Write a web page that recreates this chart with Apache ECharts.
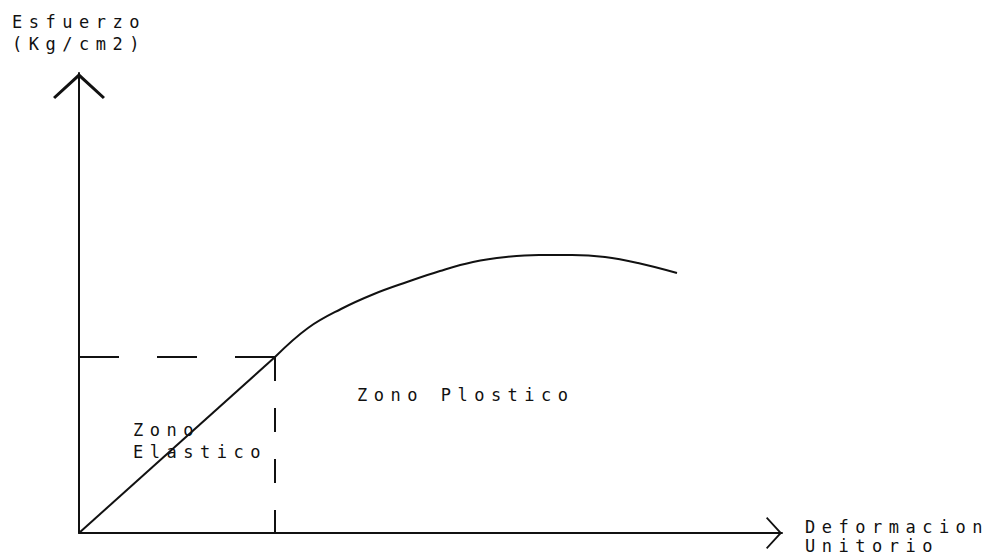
<!DOCTYPE html>
<html>
<head>
<meta charset="utf-8">
<script src="https://cdn.jsdelivr.net/npm/echarts@6/dist/echarts.min.js"></script>
<style>
  html, body { margin: 0; padding: 0; background: #fff; }
  #chart { width: 993px; height: 555px; }
  /* pixel-font look: wide letter spacing on all chart text */
  #chart text { letter-spacing: 6.5px; }
</style>
</head>
<body>
<div id="chart"></div>
<script>
// zona elastica (recta desde el origen hasta el limite elastico)
var elasticX = [0, 19.6];
var elasticY = [0, 17.6];
// zona plastica (curva)
var plasticX = [19.6, 22.9, 26.2, 29.5, 32.8, 36.1, 39.4, 42.7, 46.0, 49.3, 52.6, 55.9, 59.8];
var plasticY = [17.6, 20.5, 22.4, 23.9, 25.1, 26.2, 27.1, 27.6, 27.8, 27.8, 27.6, 27.0, 26.0];
// limite elastico (lineas punteadas)
var yieldX = 19.6;
var yieldY = 17.6;

var ink = '#111';
var font = '17px "DejaVu Sans Mono", monospace';
var chevron = 'path://M50,0 L100,46 L96,50 L50,8 L4,50 L0,46 Z';

function pairs(xs, ys) {
  return xs.map(function (x, i) { return [x, ys[i]]; });
}

var chart = echarts.init(document.getElementById('chart'), null, { renderer: 'svg' });

var option = {
  backgroundColor: '#fff',
  animation: false,
  grid: { left: 79, right: 211, top: 73, bottom: 22 },
  xAxis: {
    type: 'value',
    min: 0,
    max: 70.3,
    splitLine: { show: false },
    axisTick: { show: false },
    axisLabel: { show: false },
    axisLine: {
      lineStyle: { color: ink, width: 2 },
      symbol: ['none', chevron],
      symbolSize: [32, 16],
      symbolOffset: [0, -8]
    }
  },
  yAxis: {
    type: 'value',
    min: 0,
    max: 46,
    splitLine: { show: false },
    axisTick: { show: false },
    axisLabel: { show: false },
    axisLine: {
      lineStyle: { color: ink, width: 2 },
      symbol: ['none', chevron],
      symbolSize: [52, 26],
      symbolOffset: [0, -13]
    }
  },
  series: [
    {
      name: 'Elastico',
      type: 'line',
      data: pairs(elasticX, elasticY),
      showSymbol: false,
      lineStyle: { color: ink, width: 2 }
    },
    {
      name: 'Plastico',
      type: 'line',
      data: pairs(plasticX, plasticY),
      smooth: 0.4,
      showSymbol: false,
      lineStyle: { color: ink, width: 2 }
    },
    {
      // horizontal, desde el limite hacia el eje
      name: 'LimiteH',
      type: 'line',
      data: [[yieldX, yieldY], [0, yieldY]],
      showSymbol: false,
      lineStyle: { color: ink, width: 2, type: [40, 38] }
    },
    {
      // vertical, desde el limite hacia el eje
      name: 'LimiteV',
      type: 'line',
      data: [[yieldX, yieldY], [yieldX, 0]],
      showSymbol: false,
      lineStyle: { color: ink, width: 2, type: [24, 27] }
    }
  ],
  graphic: [
    { type: 'text', left: 12, top: 11,
      style: { text: 'Esfuerzo\n(Kg/cm2)', font: font, fill: ink, lineHeight: 22 } },
    { type: 'text', left: 805, top: 517,
      style: { text: 'Deformacion\nUnitorio', font: font, fill: ink, lineHeight: 19 } },
    { type: 'text', left: 357, top: 386,
      style: { text: 'Zono Plostico', font: font, fill: ink } },
    { type: 'text', left: 133, top: 419,
      style: { text: 'Zono\nElastico', font: font, fill: ink, lineHeight: 22 } }
  ]
};

chart.setOption(option);
</script>
</body>
</html>
